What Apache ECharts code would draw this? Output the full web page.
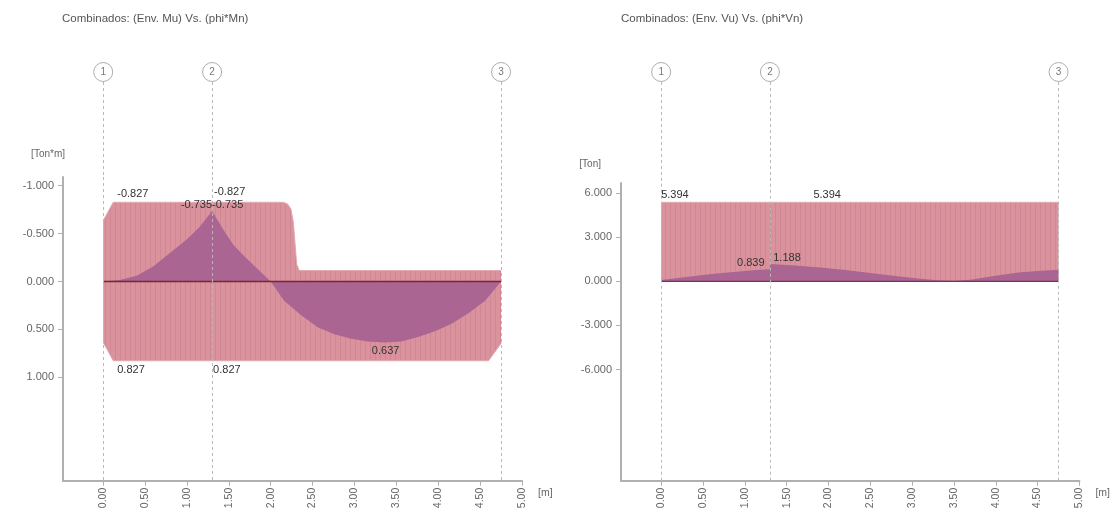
<!DOCTYPE html>
<html>
<head>
<meta charset="utf-8">
<script src="https://cdn.jsdelivr.net/npm/echarts@6/dist/echarts.min.js"></script>
<style>
html,body{margin:0;padding:0;background:#fff;}
#chart{width:1113px;height:519px;}
</style>
</head>
<body>
<div id="chart"></div>
<script>
// ---- data ----
const supportsX = [0, 1.30, 4.75];
const supportNames = ['1', '2', '3'];
const xTicks = [0, 0.5, 1, 1.5, 2, 2.5, 3, 3.5, 4, 4.5, 5];
const mTicks = [-1, -0.5, 0, 0.5, 1];
const vTicks = [-6, -3, 0, 3, 6];

// Left: capacity envelope phi*Mn (negative side, drawn on top since axis inverted)
const mnNegX = [0, 0.12, 2.15, 2.20, 2.24, 2.27, 2.29, 2.31, 2.34, 4.75];
const mnNegY = [-0.635, -0.827, -0.827, -0.81, -0.76, -0.62, -0.40, -0.18, -0.115, -0.115];
// positive side
const mnPosX = [0, 0.12, 4.60, 4.75];
const mnPosY = [0.635, 0.827, 0.827, 0.646];
// demand envelope Mu
const muX = [0, 0.2, 0.4, 0.6, 0.8, 1.0, 1.15, 1.30, 1.45, 1.56, 1.70, 1.80, 2.0, 2.16, 2.36, 2.56, 2.76, 2.96, 3.16, 3.36, 3.56, 3.76, 3.96, 4.16, 4.36, 4.56, 4.75];
const muY = [0, -0.015, -0.06, -0.16, -0.30, -0.44, -0.57, -0.735, -0.52, -0.375, -0.25, -0.167, 0, 0.2, 0.35, 0.476, 0.55, 0.597, 0.625, 0.637, 0.625, 0.58, 0.52, 0.44, 0.33, 0.2, 0];
// annotated values [x, value]
const mLabels = [[0.12, -0.827], [1.30, -0.827], [1.30, -0.735], [1.30, -0.735], [0.12, 0.827], [1.30, 0.827], [3.36, 0.637]];

// Right: capacity phi*Vn and demand Vu
const vnX = [0, 4.75];
const vnY = [5.394, 5.394];
const vuX = [0, 0.3, 0.6, 0.9, 1.1, 1.30, 1.30, 1.6, 1.9, 2.2, 2.5, 2.8, 3.1, 3.3, 3.5, 3.7, 3.9, 4.1, 4.3, 4.5, 4.75];
const vuY = [0.1, 0.3, 0.5, 0.66, 0.76, 0.839, 1.188, 1.08, 0.95, 0.78, 0.58, 0.38, 0.18, 0.08, 0.05, 0.12, 0.3, 0.48, 0.62, 0.72, 0.8];
const vLabels = [[0, 5.394], [1.82, 5.394], [1.26, 0.839], [1.34, 1.188]];

// ---- styles ----
const PINK = '#da929c';
const STRIPE = '#d08795';
const PURPLE = '#ab6593';
const GRIDLINE = '#b9b9b9';
const AXIS = '#b0b0b0';
const TXT = '#666';
const FONT = 'Liberation Sans, Arial, sans-serif';

function stripePattern() {
  const c = document.createElement('canvas');
  c.width = 5; c.height = 4;
  const g = c.getContext('2d');
  g.fillStyle = PINK; g.fillRect(0, 0, 5, 4);
  g.fillStyle = STRIPE; g.fillRect(0, 0, 1, 4);
  return { image: c, repeat: 'repeat' };
}
const pat = stripePattern();
const pairs = (xs, ys) => xs.map((x, i) => [x, ys[i]]);
const fmt = v => v.toFixed(3);

const X0 = -0.48, X1 = 5.0;
const L = { left: 63, width: 459, top: 177, bottom: 480.7 };
const R = { left: 621, width: 458.5, top: 183, bottom: 480.7 };
const TOPY = 60;

function xAxis(gi, show) {
  return {
    type: 'value', gridIndex: gi, min: X0, max: X1, show: show,
    name: show ? '[m]' : '', nameLocation: 'end', nameGap: 16,
    nameTextStyle: { fontSize: 10.5, color: TXT, fontFamily: FONT, verticalAlign: 'top', padding: [7, 0, 0, 0] },
    axisLine: { show: true, onZero: false, lineStyle: { color: AXIS, width: 2 } },
    axisTick: { show: true, length: 5, lineStyle: { color: AXIS }, customValues: xTicks },
    axisLabel: { show: true, rotate: 90, fontSize: 10.5, color: TXT, fontFamily: FONT, margin: 7,
      customValues: xTicks, formatter: v => v.toFixed(2) },
    splitLine: { show: false }
  };
}

function yAxisBase(gi, ticks) {
  return {
    type: 'value', gridIndex: gi,
    axisLine: { show: true, onZero: false, lineStyle: { color: AXIS, width: 2 } },
    axisTick: { show: true, length: 5, lineStyle: { color: AXIS }, customValues: ticks },
    axisLabel: { fontSize: 11, color: TXT, fontFamily: FONT, margin: 9, customValues: ticks, formatter: v => v.toFixed(3) },
    splitLine: { show: false }
  };
}

function supportLines() {
  return {
    silent: true, symbol: 'none',
    lineStyle: { color: GRIDLINE, type: [3, 3], width: 1 },
    label: { show: false },
    data: supportsX.map(x => ({ xAxis: x }))
  };
}

function topGrid(xi, yi, g) {
  const h = g.top - TOPY;
  return {
    type: 'scatter', xAxisIndex: xi, yAxisIndex: yi, z: 5,
    symbol: 'circle', symbolSize: 19,
    itemStyle: { color: '#fff', borderColor: '#9a9a9a', borderWidth: 1 },
    label: { show: true, position: 'inside', formatter: p => p.name, fontSize: 10, color: '#555', fontFamily: FONT },
    data: supportsX.map((x, i) => ({ value: [x, 12], name: supportNames[i] })),
    markLine: {
      silent: true, symbol: 'none', lineStyle: { color: GRIDLINE, type: [3, 3], width: 1 }, label: { show: false },
      data: supportsX.map(x => [{ coord: [x, 22] }, { coord: [x, h] }])
    }
  };
}

function labelPoints(list, specs) {
  return list.map((p, i) => ({
    coord: p, value: p[1],
    symbol: 'circle', symbolSize: 0,
    label: Object.assign({ show: true, formatter: fmt(p[1]), fontSize: 11, color: '#333', fontFamily: FONT }, specs[i])
  }));
}

const mSpecs = [
  { position: 'top', align: 'left', offset: [4, -1], distance: 2 },
  { position: 'top', align: 'left', offset: [2, -3], distance: 2 },
  { position: 'top', align: 'right', offset: [0, 1], distance: 2 },
  { position: 'top', align: 'left', offset: [0, 1], distance: 2 },
  { position: 'bottom', align: 'left', offset: [4, 1], distance: 3 },
  { position: 'bottom', align: 'left', offset: [1, 1], distance: 3 },
  { position: 'bottom', align: 'center', offset: [1, 0], distance: 3 }
];
const vSpecs = [
  { position: 'top', align: 'left', offset: [0, 0], distance: 2 },
  { position: 'top', align: 'left', offset: [0, 0], distance: 2 },
  { position: 'top', align: 'right', offset: [-2, 1], distance: 2 },
  { position: 'top', align: 'left', offset: [0, 1], distance: 2 }
];

const chart = echarts.init(document.getElementById('chart'), null, { renderer: 'canvas' });
const option = {
  animation: false,
  backgroundColor: '#fff',
  title: [
    { text: 'Combinados: (Env. Mu) Vs. (phi*Mn)', left: 57, top: 8, textStyle: { fontSize: 11.5, fontWeight: 'normal', color: '#555', fontFamily: FONT } },
    { text: 'Combinados: (Env. Vu) Vs. (phi*Vn)', left: 616, top: 8, textStyle: { fontSize: 11.5, fontWeight: 'normal', color: '#555', fontFamily: FONT } }
  ],
  grid: [
    { left: L.left, width: L.width, top: L.top, height: L.bottom - L.top },
    { left: R.left, width: R.width, top: R.top, height: R.bottom - R.top },
    { left: L.left, width: L.width, top: TOPY, height: L.top - TOPY },
    { left: R.left, width: R.width, top: TOPY, height: R.top - TOPY }
  ],
  xAxis: [xAxis(0, true), xAxis(1, true), xAxis(2, false), xAxis(3, false)],
  yAxis: [
    Object.assign(yAxisBase(0, mTicks), {
      inverse: true, min: -1.091, max: 2.079,
      name: '[Ton*m]', nameLocation: 'start', nameGap: 18,
      nameTextStyle: { fontSize: 10, color: TXT, fontFamily: FONT, align: 'right', padding: [0, -2, 0, 0] }
    }),
    Object.assign(yAxisBase(1, vTicks), {
      min: -13.58, max: 6.71,
      name: '[Ton]', nameLocation: 'end', nameGap: 14,
      nameTextStyle: { fontSize: 10, color: TXT, fontFamily: FONT, align: 'right', padding: [0, 20, 0, 0] }
    }),
    { type: 'value', gridIndex: 2, show: false, inverse: true, min: 0, max: L.top - TOPY },
    { type: 'value', gridIndex: 3, show: false, inverse: true, min: 0, max: R.top - TOPY }
  ],
  series: [
    // left chart
    { type: 'line', xAxisIndex: 0, yAxisIndex: 0, data: pairs(mnNegX, mnNegY), symbol: 'none', silent: true,
      lineStyle: { width: 1, color: '#e3a9b0' }, areaStyle: { color: pat, opacity: 1 }, z: 1 },
    { type: 'line', xAxisIndex: 0, yAxisIndex: 0, data: pairs(mnPosX, mnPosY), symbol: 'none', silent: true,
      lineStyle: { width: 1, color: '#e3a9b0' }, areaStyle: { color: pat, opacity: 1 }, z: 1 },
    { type: 'line', xAxisIndex: 0, yAxisIndex: 0, data: pairs(muX, muY), symbol: 'none', silent: true,
      lineStyle: { width: 0 }, areaStyle: { color: PURPLE, opacity: 1 }, z: 2 },
    { type: 'line', xAxisIndex: 0, yAxisIndex: 0, data: [[supportsX[0], 0], [supportsX[2], 0]], symbol: 'none', silent: true,
      lineStyle: { width: 1.5, color: '#7a2534' }, z: 3,
      markLine: supportLines(),
      markPoint: { silent: true, data: labelPoints(mLabels, mSpecs) } },
    // right chart
    { type: 'line', xAxisIndex: 1, yAxisIndex: 1, data: pairs(vnX, vnY), symbol: 'none', silent: true,
      lineStyle: { width: 1, color: '#e3a9b0' }, areaStyle: { color: pat, opacity: 1 }, z: 1 },
    { type: 'line', xAxisIndex: 1, yAxisIndex: 1, data: pairs(vuX, vuY), symbol: 'none', silent: true,
      lineStyle: { width: 0 }, areaStyle: { color: PURPLE, opacity: 1 }, z: 2 },
    { type: 'line', xAxisIndex: 1, yAxisIndex: 1, data: [[supportsX[0], 0], [supportsX[2], 0]], symbol: 'none', silent: true,
      lineStyle: { width: 1.2, color: '#7a2f5a' }, z: 3,
      markLine: supportLines(),
      markPoint: { silent: true, data: labelPoints(vLabels, vSpecs) } },
    // support markers
    topGrid(2, 2, L),
    topGrid(3, 3, R)
  ]
};
chart.setOption(option);
</script>
</body>
</html>
